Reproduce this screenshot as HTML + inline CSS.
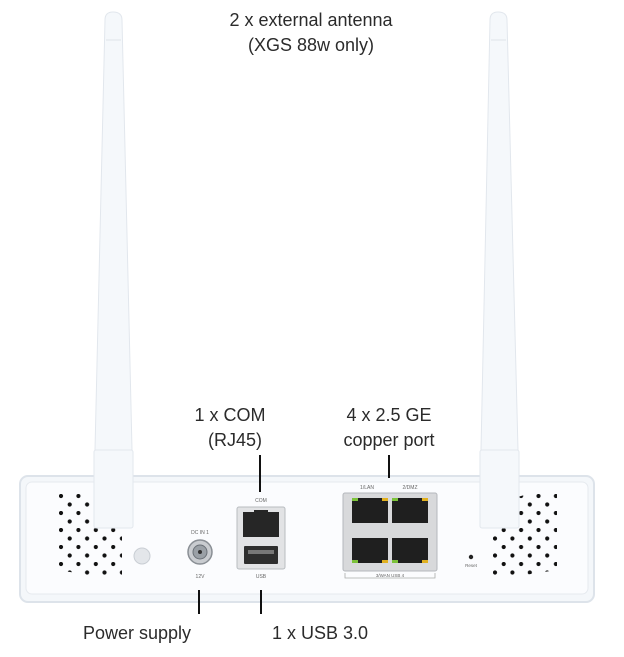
<!DOCTYPE html>
<html><head><meta charset="utf-8"><style>
html,body{margin:0;padding:0;background:#fff;}
svg{display:block;}
text{font-family:"Liberation Sans",sans-serif;font-size:18px;fill:#2b2b2b;}
</style></head><body>
<svg width="624" height="657" viewBox="0 0 624 657" xmlns="http://www.w3.org/2000/svg">
<defs>
<pattern id="dl" x="59" y="494" width="17.4" height="17" patternUnits="userSpaceOnUse">
<circle cx="2" cy="2" r="2.1" fill="#111"/><circle cx="10.7" cy="10.5" r="2.1" fill="#111"/>
</pattern>
<pattern id="dr" x="493" y="494" width="17.4" height="17" patternUnits="userSpaceOnUse">
<circle cx="2" cy="10.5" r="2.1" fill="#111"/><circle cx="10.7" cy="2" r="2.1" fill="#111"/>
</pattern>
</defs>
<!-- chassis -->
<rect x="20" y="476" width="574" height="126" rx="8" fill="#f4f7fa" stroke="#dde3ea" stroke-width="2"/>
<rect x="26" y="482" width="562" height="112" rx="6" fill="#fbfcfe" stroke="#e6eaef" stroke-width="1"/>
<!-- vents -->
<polygon points="57,492 80,492 122,505 122,580 57,570" fill="url(#dl)"/>
<polygon points="492,505 534,492 557,492 557,570 492,580" fill="url(#dr)"/>
<!-- antennas -->
<g fill="#f5f8fb" stroke="#e2e7ed" stroke-width="1">
<path d="M105,20 Q105,12 113,12 Q122,12 122,20 L132,450 L95,450 Z"/>
<rect x="94" y="450" width="39" height="78" rx="2"/>
<path d="M490,20 Q490,12 498,12 Q507,12 507,20 L518,450 L481,450 Z"/>
<rect x="480" y="450" width="39" height="78" rx="2"/>
</g>
<line x1="106" y1="40" x2="121" y2="40" stroke="#e0e5ea"/>
<line x1="491" y1="40" x2="506" y2="40" stroke="#e0e5ea"/>
<!-- screw -->
<circle cx="142" cy="556" r="8" fill="#e3e6ea" stroke="#c9ced4"/>
<!-- power jack -->
<text x="200" y="534" text-anchor="middle" style="font-size:5px;fill:#666">DC IN 1</text>
<circle cx="200" cy="552" r="12" fill="#c9ccd0" stroke="#8a8f95" stroke-width="1.5"/>
<circle cx="200" cy="552" r="7" fill="#9aa0a6" stroke="#6a7077"/>
<circle cx="200" cy="552" r="2" fill="#333"/>
<text x="200" y="578" text-anchor="middle" style="font-size:5px;fill:#666">12V</text>
<!-- COM/USB -->
<text x="261" y="502" text-anchor="middle" style="font-size:5px;fill:#666">COM</text>
<rect x="237" y="507" width="48" height="62" rx="2" fill="#e2e3e5" stroke="#b8bcc0"/>
<path d="M243,512 L279,512 L279,537 L243,537 Z" fill="#262626"/>
<rect x="254" y="510" width="14" height="5" fill="#262626"/>
<rect x="244" y="546" width="34" height="18" rx="1" fill="#2e2e2e"/>
<rect x="248" y="550" width="26" height="4" fill="#777"/>
<text x="261" y="578" text-anchor="middle" style="font-size:5px;fill:#666">USB</text>
<!-- LAN -->
<text x="367" y="489" text-anchor="middle" style="font-size:5px;fill:#666">1/LAN</text>
<text x="410" y="489" text-anchor="middle" style="font-size:5px;fill:#666">2/DMZ</text>
<rect x="343" y="493" width="94" height="78" rx="2" fill="#d8d9db" stroke="#b5b8bc"/>
<g fill="#1f1f1f">
<rect x="352" y="498" width="36" height="25"/><rect x="392" y="498" width="36" height="25"/>
<rect x="352" y="538" width="36" height="25"/><rect x="392" y="538" width="36" height="25"/>
</g>
<g fill="#7cc23a"><rect x="352" y="498" width="6" height="3"/><rect x="392" y="498" width="6" height="3"/><rect x="352" y="560" width="6" height="3"/><rect x="392" y="560" width="6" height="3"/></g>
<g fill="#e0b020"><rect x="382" y="498" width="6" height="3"/><rect x="422" y="498" width="6" height="3"/><rect x="382" y="560" width="6" height="3"/><rect x="422" y="560" width="6" height="3"/></g>
<path d="M345,573 L345,578 L435,578 L435,573" fill="none" stroke="#aaa" stroke-width="0.8"/>
<text x="390" y="577" text-anchor="middle" style="font-size:4.5px;fill:#666">3/WAN  USB   4</text>
<!-- reset -->
<circle cx="471" cy="557" r="2.2" fill="#222"/>
<text x="471" y="567" text-anchor="middle" style="font-size:4.5px;fill:#666">Reset</text>
<!-- leader lines -->
<g stroke="#111" stroke-width="2">
<line x1="260" y1="455" x2="260" y2="492"/>
<line x1="389" y1="455" x2="389" y2="478"/>
<line x1="199" y1="590" x2="199" y2="614"/>
<line x1="261" y1="590" x2="261" y2="614"/>
</g>
<!-- labels -->
<text x="311" y="26" text-anchor="middle">2 x external antenna</text>
<text x="311" y="51" text-anchor="middle">(XGS 88w only)</text>
<text x="230" y="421" text-anchor="middle">1 x COM</text>
<text x="235" y="446" text-anchor="middle">(RJ45)</text>
<text x="389" y="421" text-anchor="middle">4 x 2.5 GE</text>
<text x="389" y="446" text-anchor="middle">copper port</text>
<text x="137" y="639" text-anchor="middle">Power supply</text>
<text x="320" y="639" text-anchor="middle">1 x USB 3.0</text>
</svg>
</body></html>
